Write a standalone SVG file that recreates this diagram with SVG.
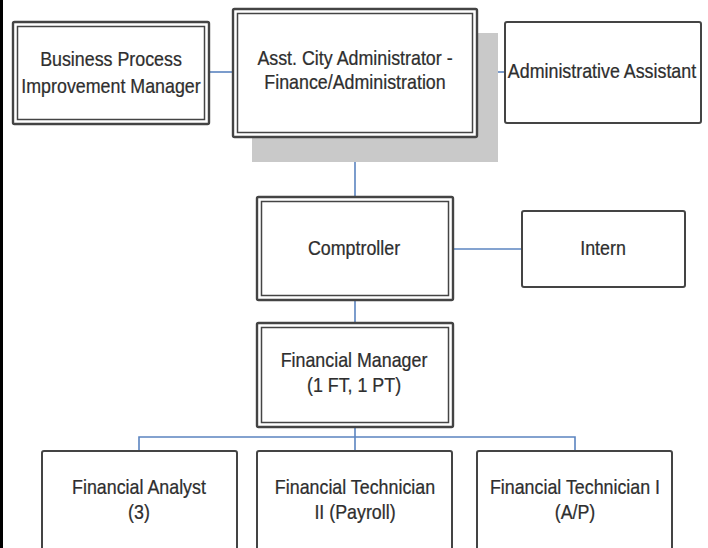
<svg xmlns="http://www.w3.org/2000/svg" width="708" height="548" viewBox="0 0 708 548">
<style>
.bg{fill:#ffffff}
.o{fill:#ffffff;stroke:#444444;stroke-width:2.4}
.i{fill:none;stroke:#444444;stroke-width:1.5}
.s{fill:#ffffff;stroke:#444444;stroke-width:2}
.c{fill:none;stroke:#5b84c0;stroke-width:1.6}
.t{font-family:"Liberation Sans",Arial,sans-serif;font-size:21px;fill:#2e2e2e;stroke:#2e2e2e;stroke-width:0.25;text-anchor:middle}
</style>
<rect class="bg" x="0" y="0" width="708" height="548"/>
<rect x="0" y="0" width="3" height="548" fill="#000000"/>
<g id="connectors">
<path class="c" d="M209 72 H233"/>
<path class="c" d="M477 72 H505"/>
<path class="c" d="M355 137 V197"/>
<path class="c" d="M453 249 H522"/>
<path class="c" d="M355 300 V323"/>
<path class="c" d="M355 427 V451"/>
<path class="c" d="M139 451 V437 H575 V451"/>
</g>
<g id="bpim">
<rect class="o" x="13" y="22" width="196" height="102" rx="1.5"/>
<rect class="i" x="17.5" y="26.5" width="187" height="93"/>
<text class="t" transform="translate(111 0) scale(0.85 1)" y="66">Business Process</text>
<text class="t" transform="translate(111 0) scale(0.85 1)" y="93">Improvement Manager</text>
</g>
<g id="asst">
<rect x="252" y="33" width="246" height="129" fill="#c9c9c9"/>
<rect class="o" x="233" y="9" width="244" height="128" rx="1.5"/>
<rect class="i" x="237.5" y="13.5" width="235" height="119"/>
<text class="t" transform="translate(355 0) scale(0.85 1)" y="65">Asst. City Administrator -</text>
<text class="t" transform="translate(355 0) scale(0.85 1)" y="89">Finance/Administration</text>
</g>
<g id="admin">
<rect class="s" x="505" y="22" width="196" height="101" rx="2"/>
<text class="t" transform="translate(602 0) scale(0.85 1)" y="78">Administrative Assistant</text>
</g>
<g id="comptroller">
<rect class="o" x="257" y="197" width="196" height="103" rx="1.5"/>
<rect class="i" x="261.5" y="201.5" width="187" height="94"/>
<text class="t" transform="translate(354 0) scale(0.85 1)" y="255">Comptroller</text>
</g>
<g id="intern">
<rect class="s" x="522" y="211" width="163" height="76" rx="2"/>
<text class="t" transform="translate(603 0) scale(0.85 1)" y="255">Intern</text>
</g>
<g id="fm">
<rect class="o" x="257" y="323" width="196" height="104" rx="1.5"/>
<rect class="i" x="261.5" y="327.5" width="187" height="95"/>
<text class="t" transform="translate(354 0) scale(0.85 1)" y="367">Financial Manager</text>
<text class="t" transform="translate(354 0) scale(0.85 1)" y="392">(1 FT, 1 PT)</text>
</g>
<g id="fa">
<rect class="s" x="42" y="451" width="195" height="110" rx="2"/>
<text class="t" transform="translate(139 0) scale(0.85 1)" y="494">Financial Analyst</text>
<text class="t" transform="translate(139 0) scale(0.85 1)" y="519">(3)</text>
</g>
<g id="ft2">
<rect class="s" x="257" y="451" width="195" height="110" rx="2"/>
<text class="t" transform="translate(355 0) scale(0.85 1)" y="494">Financial Technician</text>
<text class="t" transform="translate(355 0) scale(0.85 1)" y="519">II (Payroll)</text>
</g>
<g id="ft1">
<rect class="s" x="477" y="451" width="195" height="110" rx="2"/>
<text class="t" transform="translate(575 0) scale(0.85 1)" y="494">Financial Technician I</text>
<text class="t" transform="translate(575 0) scale(0.85 1)" y="519">(A/P)</text>
</g>
</svg>
